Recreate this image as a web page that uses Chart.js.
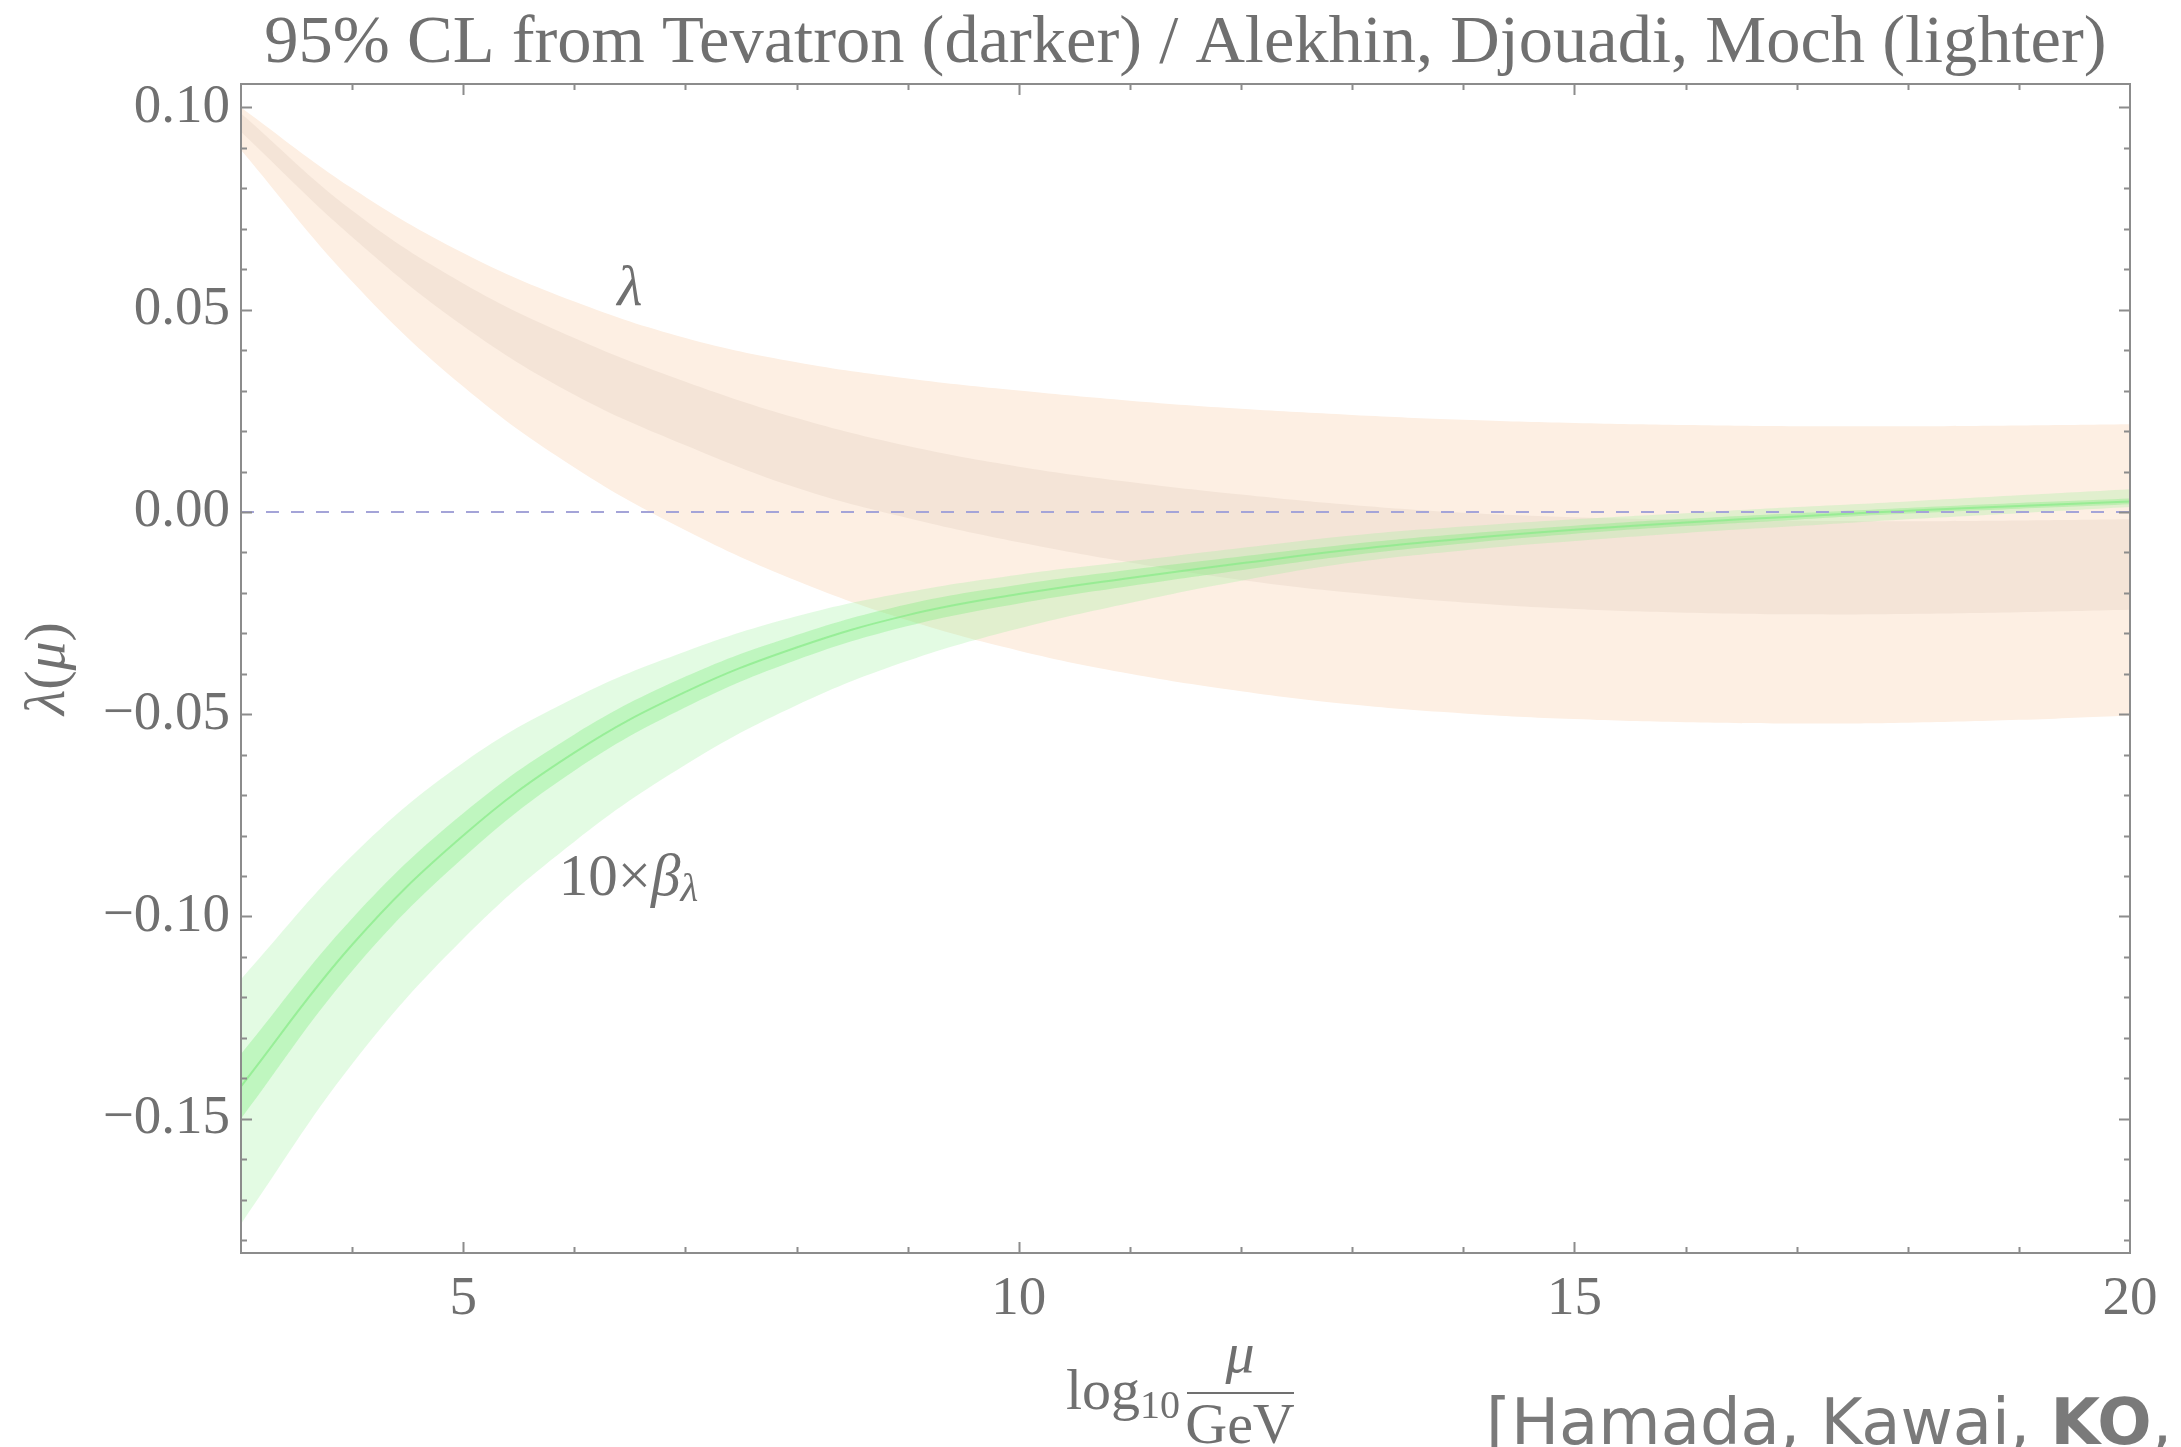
<!DOCTYPE html>
<html>
<head>
<meta charset="utf-8">
<script src="https://cdn.jsdelivr.net/npm/chart.js@4.4.1/dist/chart.umd.min.js"></script>
<style>
  html, body { margin: 0; padding: 0; background: #fff; }
  #wrap { width: 2181px; height: 1447px; position: relative; }
</style>
</head>
<body>
<div id="wrap"><canvas id="lambdaChart"></canvas></div>
<script>
// log10(mu/GeV) sample points
const logMu = [3, 4, 5, 6, 7, 8, 9, 10, 11, 12, 13, 14, 15, 16, 17, 18, 19, 20];

// lambda(mu): lighter band (Alekhin, Djouadi, Moch)
const lamOuterHi = [0.100, 0.080, 0.064, 0.052, 0.043, 0.037, 0.033, 0.030, 0.0275, 0.0255, 0.024, 0.0228, 0.022, 0.0215, 0.0212, 0.0212, 0.0214, 0.0217];
const lamOuterLo = [0.0895, 0.057, 0.031, 0.011, -0.0045, -0.017, -0.0268, -0.0343, -0.040, -0.0443, -0.0476, -0.0498, -0.0512, -0.0520, -0.0523, -0.0521, -0.0514, -0.0503];
// lambda(mu): darker band (Tevatron)
const lamInnerHi = [0.0985, 0.0745, 0.0565, 0.043, 0.0322, 0.0232, 0.0163, 0.0112, 0.0074, 0.0043, 0.0017, -0.0002, -0.0013, -0.0019, -0.0022, -0.0023, -0.0021, -0.0018];
const lamInnerLo = [0.094, 0.068, 0.046, 0.029, 0.0165, 0.006, -0.0015, -0.0075, -0.0125, -0.0168, -0.0200, -0.0224, -0.0240, -0.0249, -0.0253, -0.0252, -0.0248, -0.0242];

// 10 x beta_lambda
const betaOuterHi = [-0.1155, -0.0850, -0.0620, -0.0460, -0.0345, -0.0258, -0.0198, -0.0155, -0.0122, -0.0089, -0.0058, -0.0036, -0.0018, -0.0003, 0.0012, 0.0026, 0.0041, 0.0056];
const betaOuterLo = [-0.176, -0.1365, -0.1055, -0.0815, -0.0625, -0.0478, -0.0368, -0.0288, -0.0225, -0.0170, -0.0125, -0.0095, -0.0072, -0.0052, -0.0035, -0.0018, -0.0003, 0.0012];
const betaInnerHi = [-0.134, -0.1005, -0.0745, -0.055, -0.0407, -0.0304, -0.0228, -0.018, -0.0143, -0.011, -0.0079, -0.0054, -0.0034, -0.0017, -0.0003, 0.0010, 0.0022, 0.0033];
const betaInnerLo = [-0.150, -0.1135, -0.0855, -0.064, -0.0483, -0.0366, -0.0282, -0.0226, -0.0183, -0.0144, -0.0107, -0.0078, -0.0054, -0.0035, -0.0019, -0.0004, 0.0008, 0.0019];
const betaMid = [-0.142, -0.107, -0.080, -0.0595, -0.0445, -0.0335, -0.0255, -0.0203, -0.0163, -0.0127, -0.0093, -0.0066, -0.0044, -0.0026, -0.0011, 0.0003, 0.0015, 0.0026];

// axes
const xRange = [3, 20];
const yRange = [-0.1832, 0.1058];
const xTickValues = [5, 10, 15, 20];
const yTickValues = [-0.15, -0.10, -0.05, 0.00, 0.05, 0.10];

const GRAY = '#707070';
const SERIF = '"Liberation Serif", "Times New Roman", serif';
const SANS = '"DejaVu Sans", sans-serif';

const pts = arr => logMu.map((x, i) => ({ x: x, y: arr[i] }));

function band(hi, lo, color, order, target) {
  return [
    { data: pts(hi), fill: target, backgroundColor: color, borderColor: 'transparent', borderWidth: 0, order: order, tension: 0.4 },
    { data: pts(lo), fill: false, borderColor: 'transparent', borderWidth: 0, order: order, tension: 0.4 }
  ];
}

// draw a row of text pieces with different fonts
function drawRuns(ctx, runs, x, y, align) {
  let total = 0;
  runs.forEach(r => { ctx.font = r.font; r.w = ctx.measureText(r.text).width; total += r.w; });
  let cx = align === 'center' ? x - total / 2 : x;
  ctx.textAlign = 'left';
  runs.forEach(r => {
    ctx.font = r.font;
    ctx.fillText(r.text, cx, y + (r.dy || 0));
    cx += r.w;
  });
}

const framePlugin = {
  id: 'frame',
  afterDatasetsDraw(chart) {
    const { ctx, chartArea: a, scales: { x, y } } = chart;
    ctx.save();
    ctx.strokeStyle = '#8c8c8c';
    ctx.lineWidth = 2;
    ctx.strokeRect(a.left, a.top, a.right - a.left, a.bottom - a.top);

    ctx.beginPath();
    // y ticks, every 0.01, longer on multiples of 0.05
    for (let k = -18; k <= 10; k++) {
      const py = Math.round(y.getPixelForValue(k / 100)) + 0.5;
      const len = k % 5 === 0 ? 11 : 6;
      ctx.moveTo(a.left, py); ctx.lineTo(a.left + len, py);
      ctx.moveTo(a.right, py); ctx.lineTo(a.right - len, py);
    }
    // x ticks, every 1, longer on multiples of 5
    for (let k = 4; k < 20; k++) {
      const px = Math.round(x.getPixelForValue(k)) + 0.5;
      const len = k % 5 === 0 ? 11 : 6;
      ctx.moveTo(px, a.bottom); ctx.lineTo(px, a.bottom - len);
      ctx.moveTo(px, a.top); ctx.lineTo(px, a.top + len);
    }
    ctx.stroke();
    ctx.restore();
  }
};

const labelPlugin = {
  id: 'labels',
  afterDraw(chart) {
    const { ctx, chartArea: a, scales: { x, y } } = chart;
    ctx.save();
    ctx.fillStyle = GRAY;
    ctx.textBaseline = 'alphabetic';

    // title
    ctx.font = '68.5px ' + SERIF;
    ctx.textAlign = 'center';
    ctx.fillText('95% CL from Tevatron (darker) / Alekhin, Djouadi, Moch (lighter)', (a.left + a.right) / 2, 62);

    // curve annotations
    ctx.font = 'italic 58px ' + SERIF;
    ctx.fillText('\u03bb', x.getPixelForValue(6.5), y.getPixelForValue(0.0512));
    drawRuns(ctx, [
      { text: '10\u00d7', font: '59px ' + SERIF },
      { text: '\u03b2', font: 'italic 59px ' + SERIF },
      { text: '\u03bb', font: 'italic 41px ' + SERIF, dy: 6 }
    ], x.getPixelForValue(5.86), y.getPixelForValue(-0.0948), 'left');

    // y axis title
    ctx.save();
    ctx.translate(64, (a.top + a.bottom) / 2);
    ctx.rotate(-Math.PI / 2);
    drawRuns(ctx, [
      { text: '\u03bb', font: 'italic 58px ' + SERIF },
      { text: '(', font: '58px ' + SERIF },
      { text: '\u03bc', font: 'italic 58px ' + SERIF },
      { text: ')', font: '58px ' + SERIF }
    ], 0, 0, 'center');
    ctx.restore();

    // x axis title: log10 mu / GeV
    drawRuns(ctx, [
      { text: 'log', font: '58px ' + SERIF },
      { text: '10', font: '40px ' + SERIF, dy: 9 }
    ], 1066, 1409, 'left');
    const fx = 1240;
    ctx.fillRect(1187, 1392, 107, 2);
    ctx.textAlign = 'center';
    ctx.font = 'italic 58px ' + SERIF;
    ctx.fillText('\u03bc', fx, 1372);
    ctx.font = '58px ' + SERIF;
    ctx.fillText('GeV', fx, 1443);

    // reference
    ctx.fillStyle = '#7a7a7a';
    drawRuns(ctx, [
      { text: '[Hamada, Kawai, ', font: '64px ' + SANS },
      { text: 'KO', font: 'bold 64px ' + SANS },
      { text: ',', font: '64px ' + SANS }
    ], 1486, 1444, 'left');
    ctx.restore();
  }
};

const datasets = [
  ...band(lamOuterHi, lamOuterLo, '#fdefe3', 10, 1),
  ...band(lamInnerHi, lamInnerLo, '#f4e4d7', 9, 3),
  ...band(betaOuterHi, betaOuterLo, 'rgba(150, 240, 150, 0.27)', 8, 5),
  ...band(betaInnerHi, betaInnerLo, 'rgba(110, 235, 110, 0.30)', 7, 7),
  { data: pts(betaMid), fill: false, borderColor: 'rgba(135, 235, 135, 0.7)', borderWidth: 2, order: 6, tension: 0.4 },
  { data: [{ x: xRange[0], y: 0 }, { x: xRange[1], y: 0 }], fill: false, borderColor: '#a4a4d8', borderWidth: 2, borderDash: [13, 12], order: 5 }
];

new Chart(document.getElementById('lambdaChart'), {
  type: 'line',
  data: { datasets: datasets },
  options: {
    responsive: true,
    maintainAspectRatio: false,
    animation: false,
    layout: { padding: { top: 84, right: 51, left: 0, bottom: 0 } },
    elements: { point: { radius: 0 } },
    plugins: {
      legend: { display: false },
      tooltip: { enabled: false }
    },
    scales: {
      x: {
        type: 'linear',
        min: xRange[0],
        max: xRange[1],
        grid: { display: false, drawTicks: false },
        border: { display: false },
        afterBuildTicks: s => { s.ticks = xTickValues.map(v => ({ value: v })); },
        afterFit: s => { s.height = 194; },
        ticks: {
          font: { family: 'Liberation Serif', size: 55 },
          color: GRAY,
          padding: 14,
          maxRotation: 0,
          autoSkip: false,
          callback: v => String(v)
        }
      },
      y: {
        type: 'linear',
        min: yRange[0],
        max: yRange[1],
        grid: { display: false, drawTicks: false },
        border: { display: false },
        afterBuildTicks: s => { s.ticks = yTickValues.map(v => ({ value: v })); },
        afterFit: s => { s.width = 241; },
        ticks: {
          font: { family: 'Liberation Serif', size: 55 },
          color: GRAY,
          padding: 11,
          autoSkip: false,
          callback: v => (v < -1e-9 ? '\u2212' : '') + Math.abs(v).toFixed(2)
        }
      }
    }
  },
  plugins: [framePlugin, labelPlugin]
});
</script>
</body>
</html>
